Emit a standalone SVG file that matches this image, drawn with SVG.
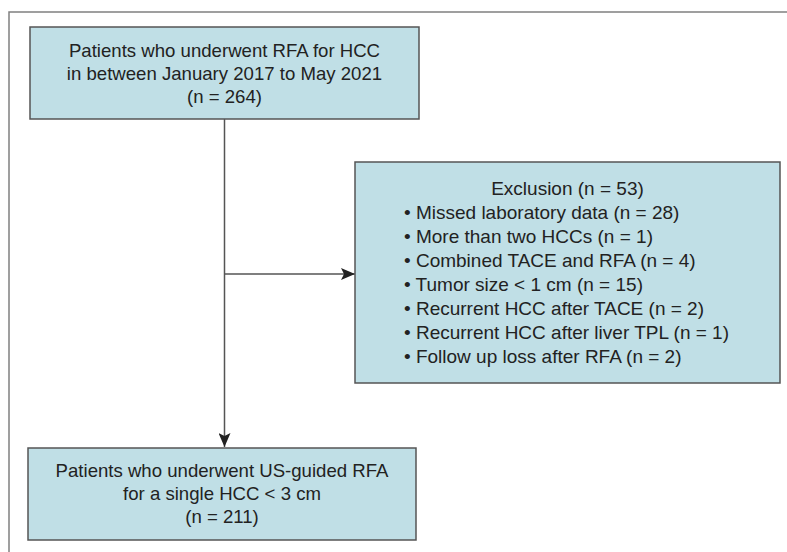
<svg xmlns="http://www.w3.org/2000/svg" width="787" height="552" viewBox="0 0 787 552">
<style>
.box{fill:#c0dfe6;stroke:#555;stroke-width:1.5}
.t{font-family:"Liberation Sans",Arial,sans-serif;font-size:18.6px;fill:#222}
.e{font-size:19px}
.c{text-anchor:middle}
.conn{stroke:#555;stroke-width:1.5;fill:none}
</style>
<defs>
<marker id="ah" viewBox="0 0 14 12" refX="14" refY="6" markerWidth="14" markerHeight="12" markerUnits="userSpaceOnUse" orient="auto">
<path d="M0,0 L14,6 L0,12 L3,6 Z" fill="#222"/>
</marker>
</defs>
<rect width="787" height="552" fill="#fff"/>
<path d="M9,560 V12 H800" fill="none" stroke="#808080" stroke-width="1.5"/>
<g id="connectors">
<line class="conn" x1="224.5" y1="119" x2="224.5" y2="447" marker-end="url(#ah)"/>
<line class="conn" x1="224.5" y1="274" x2="355" y2="274" marker-end="url(#ah)"/>
</g>
<g id="start">
<rect class="box" x="30" y="27" width="389" height="92"/>
<text class="t c" x="224.5" y="57">Patients who underwent RFA for HCC</text>
<text class="t c" x="224.5" y="80">in between January 2017 to May 2021</text>
<text class="t c" x="224.5" y="103">(n = 264)</text>
</g>
<g id="exclusion">
<rect class="box" x="355" y="162" width="425" height="221"/>
<text class="t e c" x="567.5" y="195">Exclusion (n = 53)</text>
<text class="t e" x="404" y="219">• Missed laboratory data (n = 28)</text>
<text class="t e" x="404" y="243">• More than two HCCs (n = 1)</text>
<text class="t e" x="404" y="267">• Combined TACE and RFA (n = 4)</text>
<text class="t e" x="404" y="291">• Tumor size &lt; 1 cm (n = 15)</text>
<text class="t e" x="404" y="315">• Recurrent HCC after TACE (n = 2)</text>
<text class="t e" x="404" y="339">• Recurrent HCC after liver TPL (n = 1)</text>
<text class="t e" x="404" y="363">• Follow up loss after RFA (n = 2)</text>
</g>
<g id="final">
<rect class="box" x="28" y="448" width="388" height="92"/>
<text class="t c" x="222" y="477">Patients who underwent US-guided RFA</text>
<text class="t c" x="222" y="500">for a single HCC &lt; 3 cm</text>
<text class="t c" x="222" y="523">(n = 211)</text>
</g>
</svg>
